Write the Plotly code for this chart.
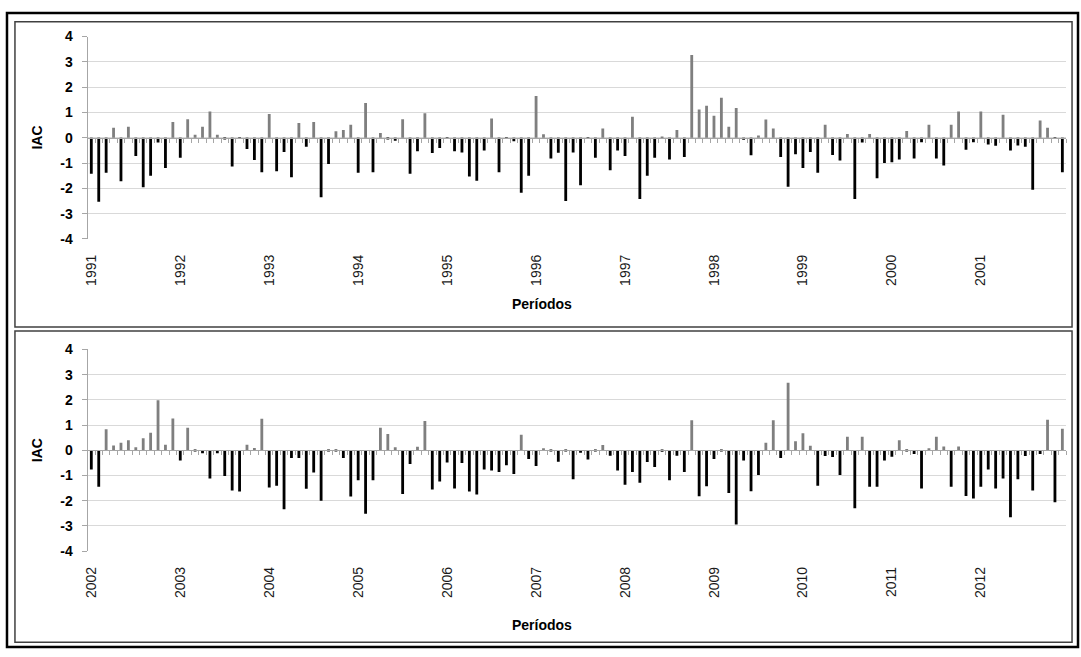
import plotly.graph_objects as go

years_top = ["1991", "1992", "1993", "1994", "1995", "1996", "1997", "1998", "1999", "2000", "2001"]
years_bottom = ["2002", "2003", "2004", "2005", "2006", "2007", "2008", "2009", "2010", "2011", "2012"]

iac_1991_2001 = [
    -1.42, -2.53, -1.38, 0.40, -1.72, 0.44, -0.72, -1.96, -1.50, -0.19, -1.20, 0.62,
    -0.79, 0.73, 0.12, 0.44, 1.04, 0.12, -0.04, -1.14, -0.03, -0.44, -0.88, -1.36,
    0.94, -1.32, -0.56, -1.56, 0.58, -0.36, 0.62, -2.35, -1.04, 0.26, 0.31, 0.51,
    -1.38, 1.37, -1.36, 0.19, -0.05, -0.12, 0.73, -1.42, -0.53, 0.97, -0.60, -0.40,
    -0.03, -0.53, -0.58, -1.53, -1.70, -0.50, 0.76, -1.36, -0.02, -0.14, -2.17, -1.50,
    1.65, 0.14, -0.82, -0.59, -2.50, -0.58, -1.88, -0.03, -0.79, 0.37, -1.28, -0.50,
    -0.72, 0.83, -2.42, -1.50, -0.79, 0.05, -0.86, 0.31, -0.76, 3.27, 1.12, 1.27,
    0.87, 1.58, 0.44, 1.18, -0.08, -0.69, 0.09, 0.72, 0.37, -0.76, -1.94, -0.65,
    -1.20, -0.56, -1.38, 0.51, -0.68, -0.90, 0.15, -2.42, -0.19, 0.15, -1.60, -1.00,
    -0.97, -0.86, 0.27, -0.82, -0.18, 0.51, -0.82, -1.10, 0.51, 1.04, -0.47, -0.18,
    1.04, -0.27, -0.32, 0.91, -0.50, -0.31, -0.36, -2.06, 0.68, 0.40, -0.03, -1.36,
]

iac_2002_2012 = [
    -0.76, -1.45, 0.84, 0.19, 0.30, 0.40, 0.12, 0.48, 0.70, 1.99, 0.22, 1.26,
    -0.40, 0.90, -0.03, -0.12, -1.12, -0.12, -1.02, -1.59, -1.63, 0.22, 0.09, 1.25,
    -1.48, -1.41, -2.34, -0.30, -0.30, -1.52, -0.88, -2.00, -0.03, -0.03, -0.30, -1.83,
    -1.19, -2.52, -1.19, 0.90, 0.65, 0.12, -1.73, -0.54, 0.14, 1.16, -1.55, -1.24,
    -0.48, -1.51, -0.50, -1.63, -1.75, -0.76, -0.80, -0.86, -0.59, -0.94, 0.62, -0.34,
    -0.62, 0.08, -0.03, -0.45, -0.02, -1.15, -0.10, -0.36, -0.03, 0.21, -0.22, -0.80,
    -1.37, -0.86, -1.29, -0.46, -0.66, -0.06, -1.19, -0.22, -0.86, 1.19, -1.82, -1.43,
    -0.34, -0.04, -1.69, -2.94, -0.40, -1.62, -0.98, 0.30, 1.19, -0.30, 2.68, 0.36,
    0.68, 0.18, -1.41, -0.23, -0.27, -0.98, 0.54, -2.30, 0.54, -1.45, -1.45, -0.40,
    -0.26, 0.40, -0.04, -0.15, -1.51, 0.08, 0.54, 0.15, -1.45, 0.15, -1.81, -1.91,
    -1.45, -0.76, -1.51, -1.12, -2.66, -1.15, -0.23, -1.59, -0.15, 1.21, -2.06, 0.86,
]

y_ticks = [-4, -3, -2, -1, 0, 1, 2, 3, 4]

W, H = 1081, 657
X0, X1 = 83 / W, 1066 / W
panels = [
    dict(vals=iac_1991_2001, years=years_top, ydom=(1 - 236.7 / H, 1 - 29.3 / H)),
    dict(vals=iac_2002_2012, years=years_bottom, ydom=(1 - 556.7 / H, 1 - 350 / H)),
]

POS = "#7f7f7f"
NEG = "#000000"
GRID = "#d9d9d9"
AXIS = "#a6a6a6"
FONT = "Liberation Sans"

fig = go.Figure()
layout = dict(
    width=W, height=H,
    margin=dict(l=0, r=0, t=0, b=0),
    paper_bgcolor="white", plot_bgcolor="white",
    showlegend=False, barmode="overlay",
    annotations=[], shapes=[],
)

for p_i, p in enumerate(panels):
    n = len(p["vals"])
    idx = list(range(n))
    neg = [v if v < 0 else None for v in p["vals"]]
    pos = [v if v >= 0 else None for v in p["vals"]]
    xa = "x" if p_i == 0 else "x2"
    ya = "y" if p_i == 0 else "y2"
    xz = "x3" if p_i == 0 else "x4"
    fig.add_trace(go.Bar(x=idx, y=neg, xaxis=xa, yaxis=ya, width=0.38,
                         marker=dict(color=NEG, line=dict(width=0)), hoverinfo="skip"))
    fig.add_trace(go.Bar(x=idx, y=pos, xaxis=xz, yaxis=ya, width=0.38,
                         marker=dict(color=POS, line=dict(width=0)), hoverinfo="skip"))

    y0, y1 = p["ydom"]
    yzero = (y0 + y1) / 2
    axname = "xaxis" if p_i == 0 else "xaxis2"
    yaxname = "yaxis" if p_i == 0 else "yaxis2"
    zname = "xaxis3" if p_i == 0 else "xaxis4"

    layout[axname] = dict(
        domain=[X0, X1], anchor=ya, range=[-0.5, n - 0.5],
        tickmode="array", tickvals=[k * 12 for k in range(len(p["years"]))],
        ticktext=p["years"], tickangle=-90, ticks="", showline=False,
        showgrid=False, zeroline=False, ticklabelstandoff=12,
        tickfont=dict(family=FONT, size=14, color="#1a1a1a"),
    )
    layout[zname] = dict(
        overlaying=xa, matches=xa, anchor="free", position=yzero,
        domain=[X0, X1], range=[-0.5, n - 0.5], side="bottom",
        showticklabels=False, showgrid=False, zeroline=False,
        showline=True, linecolor=AXIS, linewidth=1,
        ticks="outside", ticklen=4, tickcolor=AXIS, tickwidth=1,
        tickmode="linear", tick0=-0.5, dtick=1,
    )
    layout[yaxname] = dict(
        domain=[y0, y1], anchor=xa, range=[-4, 4],
        tickmode="array", tickvals=y_ticks, ticktext=[str(t) for t in y_ticks],
        showgrid=True, gridcolor=GRID, gridwidth=1, zeroline=False,
        showline=True, linecolor=AXIS, linewidth=1,
        ticks="outside", ticklen=5, tickcolor=AXIS,
        ticklabelstandoff=6,
        tickfont=dict(family=FONT, size=14, color="#000000", weight="bold"),
    )
    layout["annotations"].append(dict(
        text="IAC", xref="paper", yref="paper", x=32 / W, y=yzero,
        showarrow=False, textangle=-90, xanchor="center", yanchor="middle",
        font=dict(family=FONT, size=14, color="#000000", weight="bold"),
    ))
    title_y = 303 if p_i == 0 else 632
    layout["annotations"].append(dict(
        text="Períodos", xref="paper", yref="paper", x=539 / W, y=1 - title_y / H,
        showarrow=False, xanchor="center", yanchor="middle",
        font=dict(family=FONT, size=14, color="#000000", weight="bold"),
    ))

# frames
layout["shapes"].append(dict(type="rect", xref="paper", yref="paper",
                             x0=2 / W, x1=1078 / W, y0=1 - 655 / H, y1=1 - 5 / H,
                             line=dict(color="#000000", width=2.5)))
layout["shapes"].append(dict(type="rect", xref="paper", yref="paper",
                             x0=10 / W, x1=1072 / W, y0=1 - 327 / H, y1=1 - 14 / H,
                             line=dict(color="#404040", width=1.5)))
layout["shapes"].append(dict(type="rect", xref="paper", yref="paper",
                             x0=10 / W, x1=1072 / W, y0=1 - 650 / H, y1=1 - 331 / H,
                             line=dict(color="#404040", width=1.5)))

fig.update_layout(**layout)
fig.write_html("out.html")
